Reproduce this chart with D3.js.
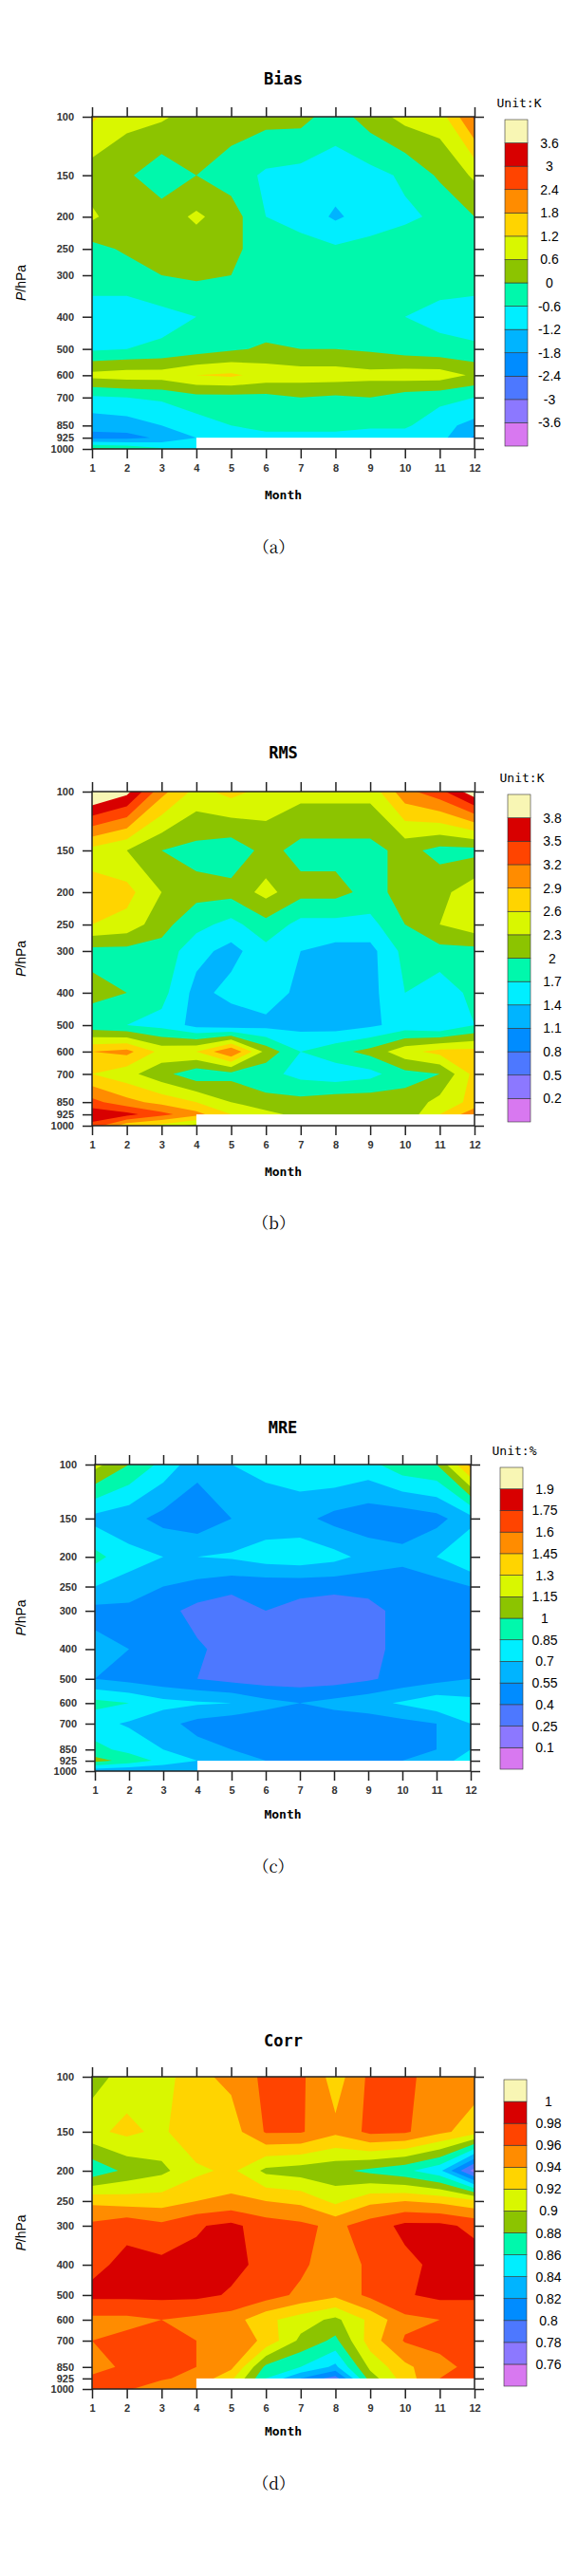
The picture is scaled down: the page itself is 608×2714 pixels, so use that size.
<!DOCTYPE html>
<html>
<head>
<meta charset="utf-8">
<script src="https://cdn.jsdelivr.net/npm/d3@7"></script>
<style>body{margin:0;background:#fff}</style>
</head>
<body>
<script>
var months = [1,2,3,4,5,6,7,8,9,10,11,12];
var levels = [100,150,200,250,300,400,500,600,700,850,925,1000];
var palette = ["#d878f0","#8c78ff","#4d78ff","#008cff","#00b4ff","#00eeff","#00f8ac",
               "#8cc400","#d9f700","#ffd400","#ff8c00","#ff4400","#d80000","#f8f6b4"];

var biasLevels = [-3.6,-3,-2.4,-1.8,-1.2,-0.6,0,0.6,1.2,1.8,2.4,3,3.6];
var biasData = [
 [1.3,0.8,0.7,0.3,0.3,0.2,0.2,-0.3,0.3,0.8,0.9,2.5],
 [0.3,0.1,-0.4,0.0,-0.3,-0.7,-0.8,-0.9,-0.8,-0.5,0.1,0.7],
 [0.7,0.2,0.3,0.7,0.3,-0.6,-0.8,-1.3,-0.9,-0.7,-0.5,0.0],
 [-0.2,0.1,0.1,0.3,0.2,-0.4,-0.4,-0.5,-0.4,-0.3,-0.3,-0.3],
 [-0.3,-0.3,0.0,0.1,0.0,-0.3,-0.3,-0.4,-0.4,-0.4,-0.3,-0.3],
 [-0.9,-0.9,-0.8,-0.6,-0.5,-0.4,-0.4,-0.4,-0.5,-0.6,-0.8,-0.9],
 [-0.7,-0.6,-0.5,-0.3,-0.1,0.1,0.0,0.0,-0.1,-0.3,-0.4,-0.5],
 [0.8,0.9,0.9,1.2,1.3,1.0,0.9,0.9,0.8,0.9,0.9,0.5],
 [-0.7,-0.6,-0.5,-0.2,-0.2,-0.2,0.0,-0.1,0.0,-0.3,-0.4,-0.6],
 [-1.6,-1.5,-1.2,-0.9,-0.6,-0.4,-0.4,-0.4,-0.4,-0.5,-1.0,-1.4],
 [-2.0,-2.0,-1.7,-1.2,-0.8,-0.8,-0.8,-0.8,-1.2,-0.9,-1.0,-1.9],
 [0.2,0.0,-0.5,-0.8,null,null,null,null,null,null,null,null]
];

var rmsLevels = [0.2,0.5,0.8,1.1,1.4,1.7,2,2.3,2.6,2.9,3.2,3.5,3.8];
var rmsData = [
 [4.2,3.9,3.0,2.5,2.7,2.5,2.4,2.4,2.4,3.1,3.4,4.0],
 [2.5,2.3,2.0,1.9,1.8,2.1,1.9,1.9,1.9,2.1,1.9,1.9],
 [2.7,2.7,2.3,2.1,2.1,2.4,2.1,2.1,1.9,2.1,2.2,2.5],
 [2.6,2.5,2.1,1.8,1.6,1.9,1.6,1.6,1.6,2.0,2.3,2.5],
 [1.9,1.9,1.9,1.5,1.3,1.6,1.4,1.3,1.3,1.8,1.9,1.9],
 [2.1,2.0,1.8,1.3,1.5,1.6,1.3,1.2,1.3,1.7,1.5,1.8],
 [1.8,1.7,1.6,1.3,1.2,1.3,1.3,1.25,1.35,1.5,1.4,1.7],
 [2.9,3.0,2.5,2.6,3.2,2.2,1.7,1.9,2.1,2.5,2.7,2.7],
 [2.6,2.4,2.1,1.8,1.9,1.8,1.6,1.5,1.6,1.9,2.0,2.7],
 [3.3,3.0,2.8,2.6,2.3,2.1,2.1,2.2,2.2,2.1,2.4,2.7],
 [3.7,3.6,3.3,3.0,2.6,2.4,2.2,2.1,2.1,2.1,2.6,3.1],
 [3.4,2.7,2.5,2.2,null,null,null,null,null,null,null,null]
];

var mreLevels = [0.1,0.25,0.4,0.55,0.7,0.85,1,1.15,1.3,1.45,1.6,1.75,1.9];
var mreData = [
 [1.2,1.0,0.8,0.6,0.7,0.75,0.8,0.85,0.8,0.95,1.0,1.5],
 [0.65,0.6,0.5,0.45,0.55,0.6,0.6,0.5,0.45,0.45,0.5,0.65],
 [0.9,0.75,0.7,0.7,0.72,0.78,0.8,0.75,0.65,0.6,0.7,0.85],
 [0.7,0.65,0.55,0.5,0.45,0.45,0.45,0.45,0.45,0.45,0.48,0.55],
 [0.5,0.5,0.45,0.35,0.3,0.4,0.35,0.3,0.35,0.45,0.5,0.5],
 [0.6,0.55,0.5,0.42,0.35,0.38,0.3,0.3,0.35,0.45,0.5,0.55],
 [0.55,0.5,0.45,0.4,0.35,0.32,0.32,0.33,0.38,0.45,0.5,0.55],
 [0.9,0.85,0.75,0.72,0.7,0.6,0.55,0.6,0.65,0.72,0.8,0.75],
 [0.75,0.68,0.6,0.5,0.45,0.45,0.45,0.45,0.45,0.5,0.55,0.7],
 [0.9,0.8,0.7,0.6,0.55,0.5,0.5,0.5,0.5,0.5,0.55,0.7],
 [1.05,0.95,0.8,0.7,0.6,0.55,0.55,0.55,0.55,0.55,0.65,0.75],
 [0.6,0.55,0.55,0.6,null,null,null,null,null,null,null,null]
];

var corrLevels = [0.76,0.78,0.8,0.82,0.84,0.86,0.88,0.9,0.92,0.94,0.96,0.98,1];
var corrData = [
 [0.89,0.91,0.91,0.935,0.945,0.965,0.965,0.93,0.965,0.965,0.95,0.95],
 [0.915,0.925,0.915,0.94,0.93,0.962,0.962,0.945,0.965,0.963,0.945,0.93],
 [0.865,0.885,0.895,0.915,0.925,0.895,0.89,0.885,0.875,0.865,0.845,0.77],
 [0.935,0.93,0.93,0.94,0.945,0.94,0.935,0.915,0.935,0.94,0.935,0.925],
 [0.965,0.975,0.965,0.978,0.985,0.97,0.965,0.955,0.97,0.985,0.985,0.975],
 [0.975,0.985,0.985,0.985,0.985,0.975,0.965,0.945,0.965,0.975,0.985,0.99],
 [0.985,0.985,0.985,0.985,0.978,0.97,0.955,0.945,0.965,0.978,0.985,0.985],
 [0.955,0.955,0.96,0.955,0.95,0.925,0.91,0.895,0.925,0.955,0.96,0.96],
 [0.96,0.965,0.965,0.96,0.955,0.935,0.895,0.875,0.93,0.962,0.965,0.965],
 [0.95,0.965,0.965,0.96,0.945,0.875,0.86,0.835,0.905,0.935,0.955,0.965],
 [0.965,0.968,0.962,0.955,0.925,0.86,0.82,0.79,0.89,0.93,0.96,0.965],
 [0.97,0.962,0.95,0.945,null,null,null,null,null,null,null,null]
];

var panels = [
 {title:"Bias", unit:"Unit:K", tag:"（a）", data:biasData, lv:biasLevels, top:123, bottom:473, titleY:89, cbTop:126, cbBot:470, cbX:532, monthY:526, tagY:583},
 {title:"RMS", unit:"Unit:K", tag:"（b）", data:rmsData, lv:rmsLevels, top:834, bottom:1186, titleY:799, cbTop:837, cbBot:1182, cbX:535, monthY:1239, tagY:1295},
 {title:"MRE", unit:"Unit:%", tag:"（c）", data:mreData, lv:mreLevels, top:1543, bottom:1866, titleY:1510, cbTop:1546, cbBot:1864, cbX:527, monthY:1916, tagY:1973, left:100, right:496},
 {title:"Corr", unit:"", tag:"（d）", data:corrData, lv:corrLevels, top:2188, bottom:2517, titleY:2156, cbTop:2191, cbBot:2514, cbX:531, monthY:2566, tagY:2623}
];

var svg = d3.select("body").append("svg").attr("width", 608).attr("height", 2714);

panels.forEach(function(p, k){
  var left = p.left || 97, right = p.right || 500;
  var x = d3.scaleLinear().domain([1,12]).range([left, right]);
  var y = d3.scaleLog().domain([100,1000]).range([p.top, p.bottom]);
  var g = svg.append("g");

  // flatten rows; missing values take the level above (hidden under the white box anyway)
  var vals = [];
  p.data.forEach(function(row, j){
    row.forEach(function(v, i){
      vals.push(v == null ? p.data[j-1][i] : v);
    });
  });
  // grid index -> pixel (cell centres sit at i+0.5)
  function gx(t){ t = Math.max(0, Math.min(11, t - 0.5)); return x(1 + t); }
  function gy(t){
    t = Math.max(0, Math.min(11, t - 0.5));
    var j = Math.min(10, Math.floor(t)), f = t - j;
    return y(levels[j]) + f * (y(levels[j+1]) - y(levels[j]));
  }
  var path = d3.geoPath(d3.geoTransform({point: function(a, b){ this.stream.point(gx(a), gy(b)); }}));
  var cont = d3.contours().size([12, 12]).thresholds(p.lv)(vals);

  g.append("clipPath").attr("id", "clip" + k).append("rect")
    .attr("x", left).attr("y", p.top).attr("width", right - left).attr("height", p.bottom - p.top);
  var cg = g.append("g").attr("clip-path", "url(#clip" + k + ")");
  cg.append("rect").attr("x", left).attr("y", p.top).attr("width", right - left).attr("height", p.bottom - p.top)
    .attr("fill", palette[0]);
  cg.selectAll("path.c").data(cont).enter().append("path")
    .attr("d", path).attr("fill", function(d, i){ return palette[i + 1]; });
  cg.append("rect").attr("x", x(4)).attr("y", y(925)).attr("width", x(12) - x(4)).attr("height", y(1000) - y(925))
    .attr("fill", "#fff");

  var tickFont = function(s){ s.selectAll("text").attr("font-family", "Liberation Sans, Arial").attr("font-size", 11).attr("fill", "#333").attr("font-weight", "bold"); s.selectAll("line").attr("stroke", "#222").attr("stroke-width", 1.5); };
  g.append("g").attr("transform", "translate(" + left + ",0)")
    .call(d3.axisLeft(y).tickValues(levels).tickFormat(d3.format("d")).tickSize(10).tickPadding(9)).call(tickFont);
  g.append("g").attr("transform", "translate(" + right + ",0)")
    .call(d3.axisRight(y).tickValues(levels).tickFormat("").tickSize(10)).call(tickFont);
  g.append("g").attr("transform", "translate(0," + p.bottom + ")")
    .call(d3.axisBottom(x).tickValues(months).tickFormat(d3.format("d")).tickSize(10).tickPadding(6)).call(tickFont);
  g.append("g").attr("transform", "translate(0," + p.top + ")")
    .call(d3.axisTop(x).tickValues(months).tickFormat("").tickSize(10)).call(tickFont);
  g.selectAll(".domain").remove();
  g.append("rect").attr("x", left).attr("y", p.top).attr("width", right - left).attr("height", p.bottom - p.top)
    .attr("fill", "none").attr("stroke", "#222").attr("stroke-width", 1.5);

  var mono = "DejaVu Sans Mono, Liberation Mono, monospace";
  g.append("text").attr("x", (left + right) / 2).attr("y", p.titleY).attr("text-anchor", "middle")
    .attr("font-family", mono).attr("font-weight", "bold").attr("font-size", 17).text(p.title);
  g.append("text").attr("x", (left + right) / 2).attr("y", p.monthY).attr("text-anchor", "middle")
    .attr("font-family", mono).attr("font-weight", "bold").attr("font-size", 13).text("Month");
  g.append("text").attr("x", (left + right) / 2 - 10).attr("y", p.tagY).attr("text-anchor", "middle")
    .attr("font-family", "Noto Serif CJK SC, Liberation Serif, serif").attr("font-size", 17).text(p.tag);
  var yl = g.append("text").attr("transform", "translate(27," + ((p.top + p.bottom) / 2) + ") rotate(-90)")
    .attr("text-anchor", "middle").attr("font-family", "Liberation Sans, Arial").attr("font-size", 14);
  yl.append("tspan").attr("font-style", "italic").text("P");
  yl.append("tspan").text("/hPa");
  if (p.unit) g.append("text").attr("x", p.cbX + 15).attr("y", p.cbTop - 13).attr("text-anchor", "middle")
    .attr("font-family", mono).attr("font-size", 13).text(p.unit);

  // colour bar
  var n = palette.length, cbW = 24;
  var cb = d3.scaleLinear().domain([0, n]).range([p.cbBot, p.cbTop]);
  g.selectAll("rect.cb").data(palette).enter().append("rect")
    .attr("x", p.cbX).attr("width", cbW)
    .attr("y", function(d, i){ return cb(i + 1); })
    .attr("height", function(d, i){ return cb(i) - cb(i + 1); })
    .attr("fill", function(d){ return d; }).attr("stroke", "#333").attr("stroke-width", 0.6);
  g.selectAll("text.cb").data(p.lv).enter().append("text")
    .attr("x", p.cbX + cbW + 23).attr("y", function(d, i){ return cb(i + 1) + 5; })
    .attr("text-anchor", "middle").attr("font-family", "Liberation Sans, Arial").attr("font-size", 14)
    .text(function(d){ return d; });
});
</script>
</body>
</html>
